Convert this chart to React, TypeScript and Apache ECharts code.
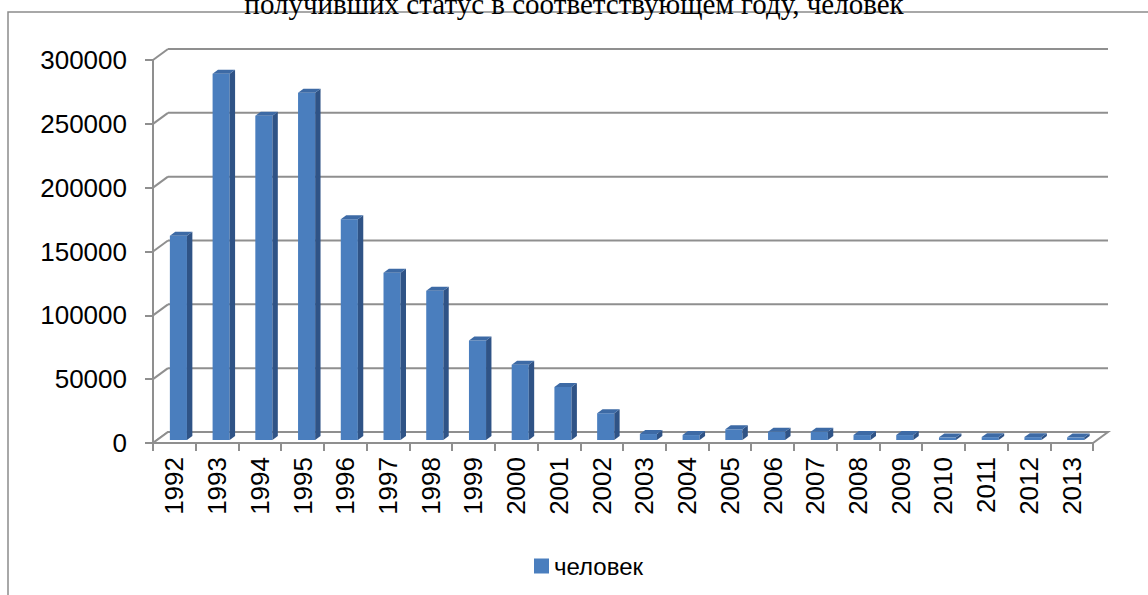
import React, { useEffect, useRef } from "react";
import * as echarts from "echarts";

const years = ["1992","1993","1994","1995","1996","1997","1998","1999","2000","2001","2002","2003","2004","2005","2006","2007","2008","2009","2010","2011","2012","2013"];
const people = [160000, 287000, 254000, 272000, 173000, 131000, 117000, 78000, 59000, 41500, 21000, 4700, 3900, 8400, 6500, 6500, 3900, 3900, 2100, 2300, 2300, 2100];
const gridValues = [0, 50000, 100000, 150000, 200000, 250000, 300000];
const seriesName = "человек";
const titleText = "получивших статус в соответствующем году, человек";

const DX = 15;
const DY = -11;
const F0 = 0.27;
const DEPTH = 0.36;
const FRONT = "#4a7ebe";
const SIDE = "#2f5386";
const TOP = "#3d6aa5";
const GRIDC = "#8f8f8f";
const FONT = "Liberation Sans";

export default function App() {
  const ref = useRef<HTMLDivElement>(null);
  useEffect(() => {
    if (!ref.current) return;
    const chart = echarts.init(ref.current, null, { renderer: "svg" });
    chart.setOption({
      animation: false,
      backgroundColor: "#ffffff",
      graphic: [
        {
          type: "rect",
          shape: { x: 8, y: 12, width: 1400, height: 800 },
          style: { fill: "none", stroke: "#8c8c8c", lineWidth: 1.5 },
          z: 0,
        },
        {
          type: "text",
          x: 574,
          y: 4,
          style: {
            text: titleText,
            fontFamily: "Liberation Serif",
            fontSize: 29,
            fill: "#000",
            textAlign: "center",
            textVerticalAlign: "middle",
          },
          z: 10,
        },
      ],
      legend: {
        data: [seriesName],
        left: 529,
        top: 549,
        icon: "rect",
        itemWidth: 15,
        itemHeight: 15,
        itemGap: 5,
        textStyle: { fontFamily: FONT, fontSize: 24, color: "#000" },
      },
      grid: { left: 153, right: 55, top: 60, bottom: 152 },
      xAxis: {
        type: "category",
        data: years,
        boundaryGap: true,
        axisLine: { show: true, lineStyle: { color: GRIDC, width: 2 } },
        axisTick: { show: true, length: 8, lineStyle: { color: GRIDC, width: 2 } },
        axisLabel: {
          rotate: 90,
          margin: 14,
          fontFamily: FONT,
          fontSize: 26,
          color: "#000",
          interval: 0,
        },
        splitLine: { show: false },
      },
      yAxis: {
        type: "value",
        min: 0,
        max: 300000,
        interval: 50000,
        axisLine: { show: true, lineStyle: { color: GRIDC, width: 2 } },
        axisTick: { show: true, length: 8, lineStyle: { color: GRIDC, width: 2 } },
        axisLabel: {
          margin: 26,
          fontFamily: FONT,
          fontSize: 26,
          color: "#000",
          formatter: (v: number) => String(v),
        },
        splitLine: { show: false },
      },
      series: [
        {
          type: "custom",
          name: "walls",
          silent: true,
          clip: false,
          z: 1,
          data: gridValues.map((v) => [0, v]),
          renderItem: (params: any, api: any) => {
            const v = api.value(1);
            const cs = params.coordSys;
            const y = api.coord([0, v])[1];
            const x0 = cs.x;
            const x1 = cs.x + cs.width;
            const children: any[] = [
              {
                type: "line",
                shape: { x1: x0, y1: y, x2: x0 + DX, y2: y + DY },
                style: { stroke: GRIDC, lineWidth: 2 },
              },
              {
                type: "line",
                shape: { x1: x0 + DX, y1: y + DY, x2: x1 + DX, y2: y + DY },
                style: { stroke: GRIDC, lineWidth: 2 },
              },
            ];
            if (v === 0) {
              children.push({
                type: "polygon",
                shape: { points: [[x0, y], [x1, y], [x1 + DX, y + DY], [x0 + DX, y + DY]] },
                style: { fill: "#ffffff", stroke: GRIDC, lineWidth: 2 },
              });
            }
            return { type: "group", children };
          },
        },
        {
          type: "custom",
          name: seriesName,
          clip: false,
          z: 5,
          itemStyle: { color: FRONT },
          data: people.map((v, i) => [i, v]),
          renderItem: (params: any, api: any) => {
            const i = api.value(0);
            const v = api.value(1);
            const base = api.coord([i, 0]);
            const top = api.coord([i, v]);
            const band = api.size([1, 0])[0];
            const w = band * 0.4;
            const fx = DX * F0;
            const fy = DY * F0;
            const dx = DX * DEPTH;
            const dy = DY * DEPTH;
            const x0 = base[0] - w / 2 + fx;
            const x1 = x0 + w;
            const yb = base[1] + fy;
            const yt = top[1] + fy;
            return {
              type: "group",
              children: [
                {
                  type: "polygon",
                  shape: { points: [[x0, yb], [x1, yb], [x1, yt], [x0, yt]] },
                  style: { fill: FRONT },
                },
                {
                  type: "polygon",
                  shape: { points: [[x1, yb], [x1 + dx, yb + dy], [x1 + dx, yt + dy], [x1, yt]] },
                  style: { fill: SIDE },
                },
                {
                  type: "polygon",
                  shape: { points: [[x0, yt], [x1, yt], [x1 + dx, yt + dy], [x0 + dx, yt + dy]] },
                  style: { fill: TOP },
                },
              ],
            };
          },
        },
      ],
    });
    return () => chart.dispose();
  }, []);
  return (
    <div
      ref={ref}
      style={{ position: "fixed", left: 0, top: 0, width: 1148, height: 595 }}
    />
  );
}
